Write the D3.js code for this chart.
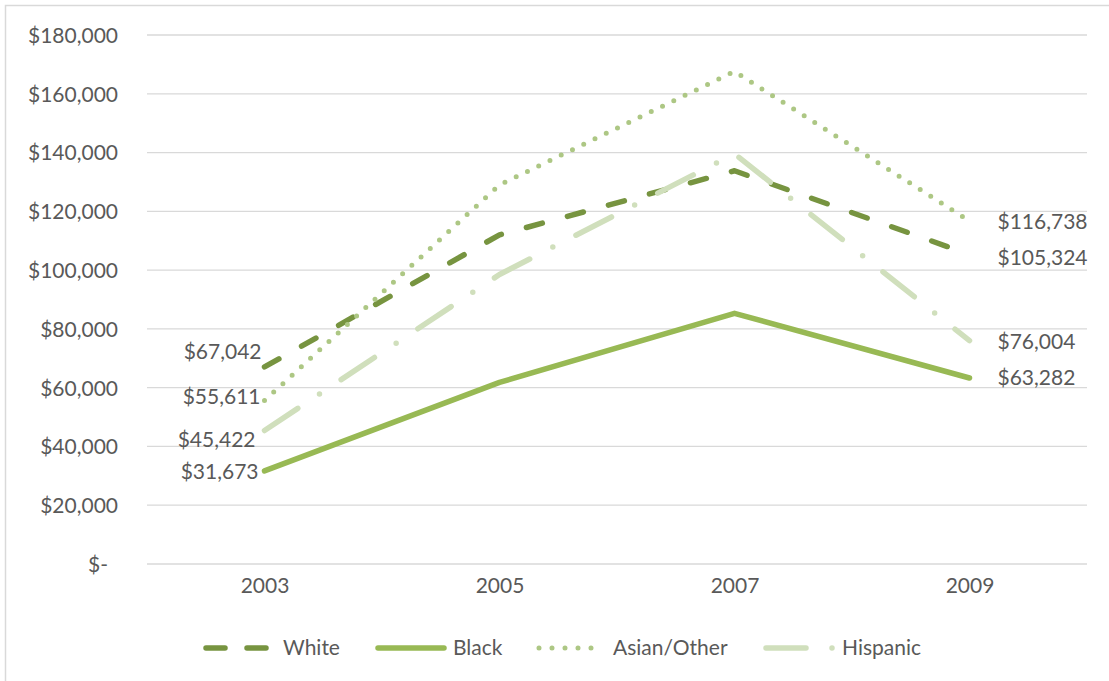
<!DOCTYPE html>
<html>
<head>
<meta charset="utf-8">
<script src="https://cdn.jsdelivr.net/npm/d3@7"></script>
<style>
  html, body { margin: 0; padding: 0; background: #fff; }
  svg { display: block; }
  text { font-family: Lato, "Liberation Sans", sans-serif; fill: #595959; }
</style>
</head>
<body>
<svg id="chart" width="1109" height="681"></svg>
<script>
// ---- data ----
const years = ["2003", "2005", "2007", "2009"];
const seriesNames = ["White", "Black", "Asian/Other", "Hispanic"];
const white = [67042, 112000, 133800, 105324];
const black = [31673, 61800, 85300, 63282];
const asianOther = [55611, 129000, 167600, 116738];
const hispanic = [45422, 98500, 139600, 76004];
const yTicks = [0, 20000, 40000, 60000, 80000, 100000, 120000, 140000, 160000, 180000];

// ---- styles ----
const styles = {
  "White":       { color: "#779440", dash: "16.5,26", start: [-3, -15], end: [28, 3] },
  "Black":       { color: "#98b954", dash: null,      start: [-6, 1],   end: [28, 0] },
  "Asian/Other": { color: "#adc784", dash: "0,12.5",  start: [-4, -4],  end: [28, 1] },
  "Hispanic":    { color: "#d0dfbc", dash: "40,26,0,26", start: [-9, 9], end: [28, 1] }
};
const seriesValues = [white, black, asianOther, hispanic];

const svg = d3.select("#chart");
const W = 1109, H = 681;

// outer chart border
svg.append("rect").attr("x", 5.5).attr("y", 5.5).attr("width", W + 20).attr("height", H + 20)
  .attr("fill", "#fff").attr("stroke", "#d9d9d9").attr("stroke-width", 1.5);

const x = d3.scalePoint().domain(years).range([147, 1087]).padding(0.5);
const y = d3.scaleLinear().domain([0, 180000]).range([564, 35]);

const fmt = v => v === 0 ? "$-" : "$" + d3.format(",")(v);

// gridlines
svg.append("g").selectAll("line").data(yTicks).join("line")
  .attr("x1", 147).attr("x2", 1087)
  .attr("y1", d => y(d)).attr("y2", d => y(d))
  .attr("stroke", "#d9d9d9").attr("stroke-width", 1.3);

// y axis labels
const yAxis = d3.axisLeft(y).tickValues(yTicks).tickFormat(fmt).tickSize(0).tickPadding(0);
const gy = svg.append("g").attr("transform", "translate(118,0)").call(yAxis);
gy.select(".domain").remove();
gy.selectAll("text").attr("font-size", 21).attr("font-family", "Lato").attr("fill", "#595959")
  .attr("dx", d => d === 0 ? -10 : 0).attr("dy", "0.35em");

// x axis labels
const xAxis = d3.axisBottom(x).tickSize(0).tickPadding(0);
const gx = svg.append("g").attr("transform", "translate(0,586)").call(xAxis);
gx.select(".domain").remove();
gx.selectAll("text").attr("font-size", 21).attr("font-family", "Lato").attr("fill", "#595959")
  .attr("dy", "0.35em");

// lines
const line = d3.line().x((d, i) => x(years[i])).y(d => y(d));
// draw order: White, Black, Asian, Hispanic (Excel order)
seriesNames.forEach((name, si) => {
  const st = styles[name];
  svg.append("path").datum(seriesValues[si])
    .attr("d", line)
    .attr("fill", "none")
    .attr("stroke", st.color)
    .attr("stroke-width", name === "Asian/Other" ? 5 : 5.5)
    .attr("stroke-linecap", "round")
    .attr("stroke-linejoin", "round")
    .attr("stroke-dasharray", st.dash);
});

// data labels
seriesNames.forEach((name, si) => {
  const st = styles[name];
  const vals = seriesValues[si];
  svg.append("text")
    .attr("x", x(years[0]) + st.start[0])
    .attr("y", y(vals[0]) + st.start[1])
    .attr("dy", "0.35em")
    .attr("text-anchor", "end")
    .attr("font-size", 21)
    .text(fmt(vals[0]));
  svg.append("text")
    .attr("x", x(years[3]) + st.end[0])
    .attr("y", y(vals[3]) + st.end[1])
    .attr("dy", "0.35em")
    .attr("text-anchor", "start")
    .attr("font-size", 21)
    .text(fmt(vals[3]));
});

// legend
const legendItems = [
  { name: "White", x0: 206, x1: 270, tx: 283 },
  { name: "Black", x0: 378, x1: 444, tx: 453 },
  { name: "Asian/Other", x0: 539, x1: 604, tx: 613 },
  { name: "Hispanic", x0: 766, x1: 836, tx: 842 }
];
const ly = 648;
const lg = svg.append("g");
legendItems.forEach(it => {
  const st = styles[it.name];
  lg.append("line")
    .attr("x1", it.x0).attr("x2", it.x1).attr("y1", ly).attr("y2", ly)
    .attr("stroke", st.color)
    .attr("stroke-width", it.name === "Asian/Other" ? 5 : 5.5)
    .attr("stroke-linecap", "round")
    .attr("stroke-dasharray", it.name === "White" ? "19,22" : it.name === "Asian/Other" ? "0,13" : st.dash);
  lg.append("text").attr("x", it.tx).attr("y", ly).attr("dy", "0.35em")
    .attr("font-size", 21).text(it.name);
});
</script>
</body>
</html>
